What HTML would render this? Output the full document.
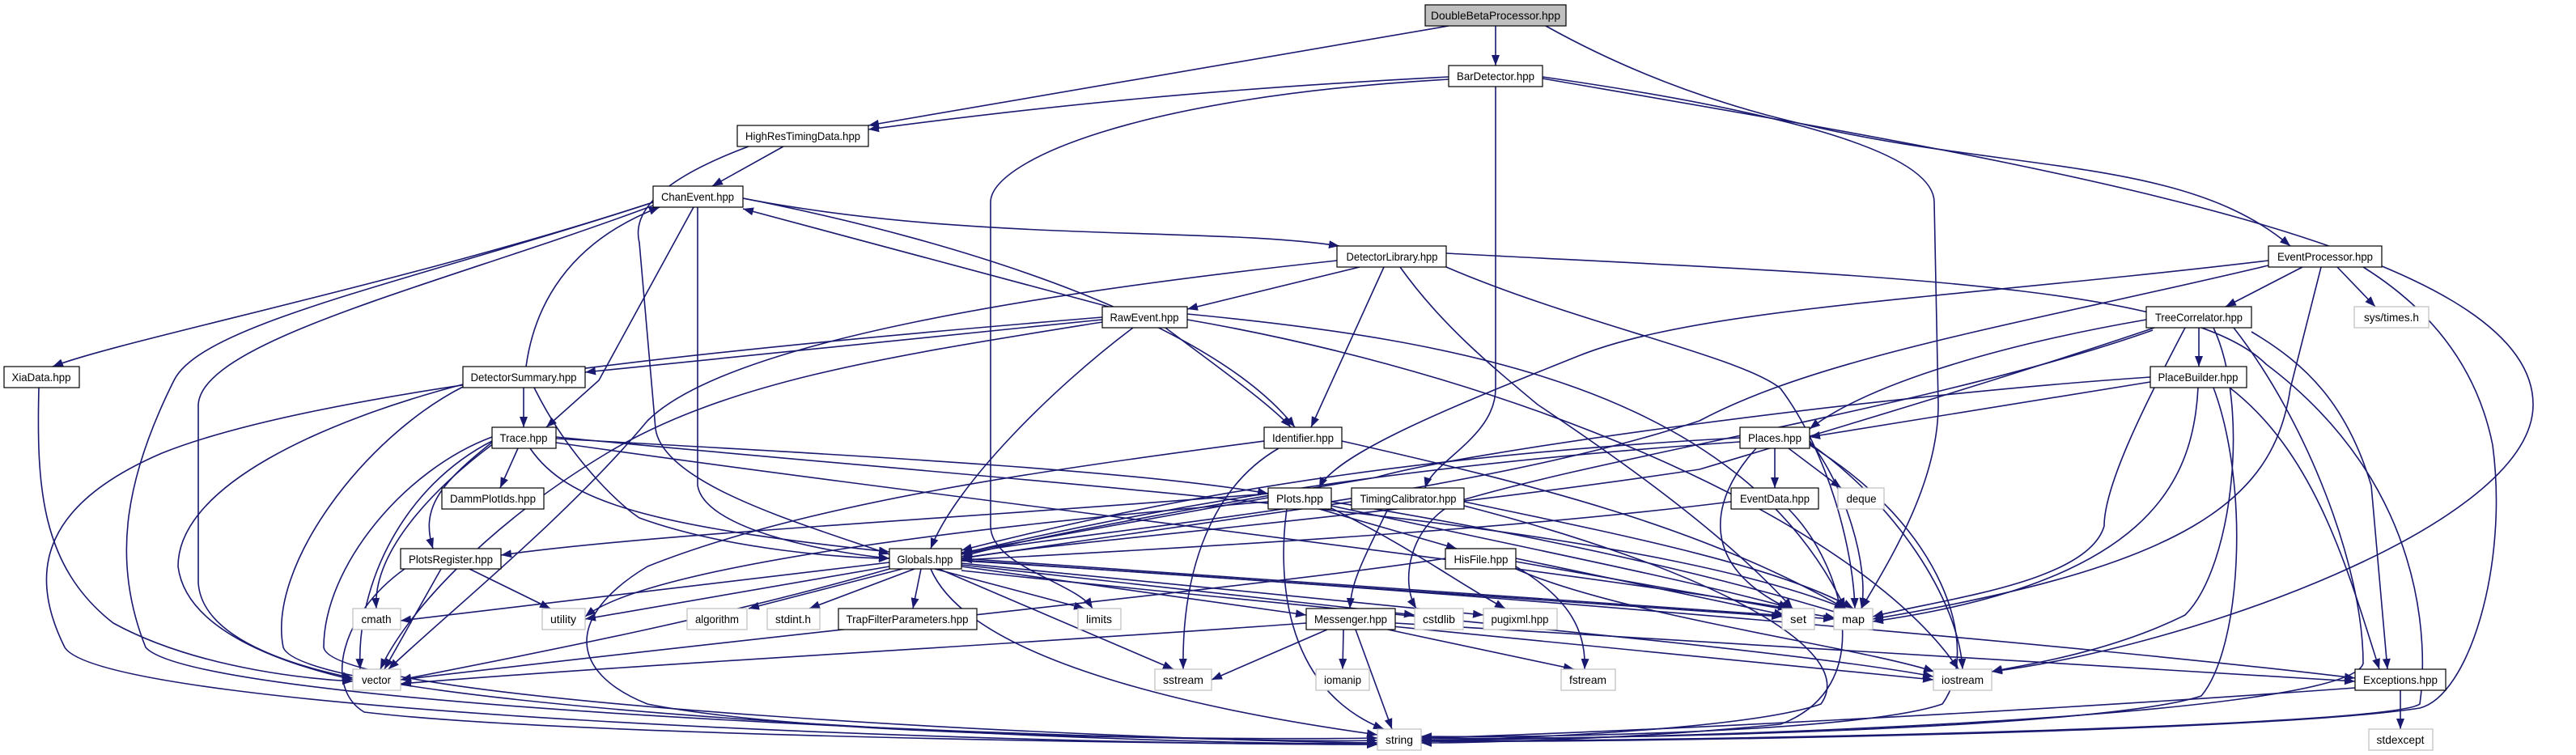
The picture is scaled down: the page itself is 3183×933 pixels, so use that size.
<!DOCTYPE html>
<html><head><meta charset="utf-8"><style>
html,body{margin:0;padding:0;background:#fff;}
svg{display:block;}
text{font-family:"Liberation Sans",sans-serif;font-size:14px;fill:#000;}
</style></head><body>
<svg width="3183" height="933" viewBox="0 0 3183 933" xmlns="http://www.w3.org/2000/svg">
<defs>
<marker id="a" markerUnits="userSpaceOnUse" markerWidth="14" markerHeight="12" refX="13" refY="5" orient="auto">
<path d="M0,0 L13,5 L0,10 z" fill="#191970"/>
</marker>
</defs>
<g fill="none" stroke="#191970" stroke-width="1.6" marker-end="url(#a)">
<path d="M1790 32 L1073 155"/>
<path d="M1848 32 L1848 81"/>
<path d="M1910 32 C2300 250 2650 150 2830 304"/>
<path d="M1790 95 C1500 110 1300 130 1073 160"/>
<path d="M1790 98 C1400 120 1224 200 1224 250 L1224 650 C1224 700 1330 720 1350 752"/>
<path d="M1848 107 L1848 480 C1848 540 1770 570 1761 603"/>
<path d="M1906 95 C2150 130 2390 180 2390 250 L2395 500 C2395 600 2330 700 2300 752"/>
<path d="M1906 97 C2500 200 3130 300 3130 500 C3130 650 2700 800 2461 830"/>
<path d="M968 181 L880 230"/>
<path d="M925 181 C820 220 780 260 790 300 L810 530 C820 600 1000 650 1099 685"/>
<path d="M807 250 C500 350 150 420 65 453"/>
<path d="M807 254 C550 350 250 420 245 500 L245 720 C250 800 400 830 436 838"/>
<path d="M807 250 C500 350 250 400 215 470 C150 600 140 700 180 800 C250 880 1500 920 1702 915"/>
<path d="M862 256 L862 600 C870 650 1000 680 1099 690"/>
<path d="M857 256 L740 470 L675 528"/>
<path d="M918 245 C1200 300 1500 400 1600 528"/>
<path d="M918 245 C1200 300 1500 280 1655 304"/>
<path d="M650 453 C660 380 700 300 815 256"/>
<path d="M647 479 L647 528"/>
<path d="M660 479 C700 560 760 620 790 640 C900 680 1050 690 1099 690"/>
<path d="M572 475 C400 520 220 600 220 700 C230 780 350 820 436 840"/>
<path d="M572 478 C450 540 330 700 350 800 C380 880 1500 925 1702 918"/>
<path d="M1370 379 L918 258"/>
<path d="M1362 395 C1100 420 900 440 723 460"/>
<path d="M1440 405 C1500 450 1570 500 1595 528"/>
<path d="M1400 405 C1300 480 1180 600 1150 678"/>
<path d="M1362 392 C900 430 400 480 200 560 C60 620 30 700 80 800 C130 880 1200 920 1702 920"/>
<path d="M1362 398 C1100 440 900 470 750 560 C600 650 500 760 470 827"/>
<path d="M1467 388 C1800 420 2150 480 2280 752"/>
<path d="M1467 395 C1900 470 2300 650 2420 827"/>
<path d="M1680 330 L1467 382"/>
<path d="M1710 330 L1620 528"/>
<path d="M1652 322 C1300 360 900 420 800 520 C700 640 550 760 480 827"/>
<path d="M1730 330 C1780 400 1840 450 1900 500 C2050 600 2150 680 2215 752"/>
<path d="M1787 330 C1950 400 2150 440 2200 480 C2260 560 2290 680 2292 752"/>
<path d="M1787 313 C2300 340 2700 350 2800 450 C3000 600 3000 800 2990 870 C2950 900 2000 918 1756 915"/>
<path d="M2803 322 C2400 370 2100 380 1950 440 C1800 500 1650 560 1630 603"/>
<path d="M2803 328 C2500 400 2250 440 2100 520 C1800 620 1300 660 1188 685"/>
<path d="M2845 330 L2750 379"/>
<path d="M2888 330 L2935 379"/>
<path d="M2868 330 L2830 480 C2810 620 2700 700 2314 765"/>
<path d="M2920 330 C3000 380 3060 450 3080 550 C3100 700 3050 860 2990 875 C2800 905 2000 918 1756 916"/>
<path d="M2717 405 L2717 453"/>
<path d="M2652 395 C2450 430 2300 480 2236 530"/>
<path d="M2662 405 C2500 460 2300 520 2100 580 C1700 640 1300 670 1188 690"/>
<path d="M2700 405 C2650 500 2600 600 2600 650 C2580 720 2400 740 2314 762"/>
<path d="M2735 405 C2780 500 2760 700 2700 760 C2600 810 2480 825 2461 830"/>
<path d="M2782 410 C2850 450 2900 500 2930 600 L2950 827"/>
<path d="M2760 405 C2850 520 2920 700 2920 820 C2900 890 2000 915 1756 914"/>
<path d="M2660 408 C2400 500 2000 560 1800 620 C1740 650 1730 720 1750 752"/>
<path d="M2657 472 L2236 540"/>
<path d="M2657 466 C2300 490 1800 560 1700 590 C1400 640 1250 670 1188 688"/>
<path d="M2716 479 C2710 600 2650 720 2314 768"/>
<path d="M2755 479 C2860 560 2900 700 2940 827"/>
<path d="M2735 479 C2780 600 2770 800 2720 860 C2600 900 2000 915 1756 912"/>
<path d="M2193 554 L2193 603"/>
<path d="M2210 554 L2275 603"/>
<path d="M2150 541 C1800 560 1500 600 1188 680"/>
<path d="M2150 546 C1800 570 1500 610 1188 684"/>
<path d="M2170 554 C2110 620 2100 700 2210 752"/>
<path d="M2236 545 C2280 600 2310 700 2300 752"/>
<path d="M2236 548 C2340 620 2420 740 2425 827"/>
<path d="M2236 550 C2400 650 2450 800 2400 870 C2300 905 1900 912 1756 910"/>
<path d="M1580 554 C1500 600 1460 700 1462 827"/>
<path d="M1562 545 C1300 580 1000 620 800 700 C700 760 700 830 800 870 C1000 910 1500 915 1702 912"/>
<path d="M1658 545 C1900 600 2100 650 2280 752"/>
<path d="M640 554 L618 603"/>
<path d="M610 545 C540 600 520 630 535 678"/>
<path d="M610 548 C540 600 460 680 465 752"/>
<path d="M608 545 C500 600 440 720 445 827"/>
<path d="M608 540 C500 580 400 700 400 800 C410 870 1400 915 1702 918"/>
<path d="M655 554 C700 620 800 650 1099 682"/>
<path d="M687 542 C1000 560 1400 580 1567 610"/>
<path d="M687 547 C1200 620 1900 700 2210 752"/>
<path d="M687 540 C1300 600 2000 640 2280 752"/>
<path d="M1567 615 L1188 683"/>
<path d="M1567 610 C1200 640 800 660 619 686"/>
<path d="M1630 629 L1800 678"/>
<path d="M1590 629 C1580 700 1580 850 1710 901"/>
<path d="M1645 625 C1900 680 2100 720 2215 752"/>
<path d="M1645 620 C1950 670 2150 720 2280 760"/>
<path d="M1645 628 C1750 680 1800 720 1860 752"/>
<path d="M1567 620 C1200 650 800 700 723 762"/>
<path d="M1670 620 L1188 690"/>
<path d="M1715 629 C1680 700 1670 720 1668 752"/>
<path d="M1809 620 C2000 660 2200 700 2290 752"/>
<path d="M1809 625 C2100 700 2300 800 2250 870 C2150 905 1800 915 1756 915"/>
<path d="M2139 620 C1900 650 1600 670 1188 692"/>
<path d="M2210 629 C2280 700 2320 850 2200 895 C2000 915 1800 918 1756 918"/>
<path d="M1786 690 C1600 720 1000 780 495 840"/>
<path d="M1873 690 L2205 760"/>
<path d="M1873 694 L2268 764"/>
<path d="M1873 700 C1940 740 1960 780 1958 827"/>
<path d="M1873 703 C2000 760 2300 800 2390 830"/>
<path d="M580 703 L680 752"/>
<path d="M545 703 L475 827"/>
<path d="M500 703 C420 760 400 850 450 880 C700 910 1500 920 1702 920"/>
<path d="M1099 695 L495 767"/>
<path d="M1099 700 L723 765"/>
<path d="M1115 703 L925 752"/>
<path d="M1130 703 L1000 752"/>
<path d="M1138 703 L1128 752"/>
<path d="M1155 703 L1340 752"/>
<path d="M1160 703 L1450 827"/>
<path d="M1150 703 C1200 820 1500 880 1702 908"/>
<path d="M1099 703 C900 760 700 800 495 840"/>
<path d="M1188 700 L1614 760"/>
<path d="M1188 698 L1748 760"/>
<path d="M1188 696 L1833 760"/>
<path d="M1188 692 L2202 762"/>
<path d="M1188 690 L2266 765"/>
<path d="M1188 705 C1600 750 2200 800 2389 836"/>
<path d="M1188 693 C1800 730 2600 800 2910 838"/>
<path d="M1660 778 L1659 827"/>
<path d="M1675 778 L1720 901"/>
<path d="M1715 778 L1945 827"/>
<path d="M1720 774 L2389 840"/>
<path d="M1724 770 L2910 842"/>
<path d="M1640 778 L1497 840"/>
<path d="M1614 770 C1200 800 800 820 495 845"/>
<path d="M2966 853 L2966 901"/>
<path d="M2910 850 C2500 880 2000 905 1756 912"/>
<path d="M48 479 C45 600 50 700 140 770 C250 830 400 840 436 842"/>
</g>
<g stroke-width="1.2">
<rect x="1761" y="6" width="174" height="26" fill="#bfbfbf" stroke="#000"/>
<text x="1848" y="24" text-anchor="middle" textLength="160" lengthAdjust="spacingAndGlyphs">DoubleBetaProcessor.hpp</text>
</g>
<g fill="#fff" stroke="#000" stroke-width="1.2">
<rect x="1790" y="81" width="116" height="26"/>
<rect x="911" y="155" width="162" height="26"/>
<rect x="807" y="230" width="111" height="26"/>
<rect x="1652" y="304" width="135" height="26"/>
<rect x="2803" y="304" width="140" height="26"/>
<rect x="1362" y="379" width="105" height="26"/>
<rect x="2652" y="379" width="130" height="26"/>
<rect x="5" y="453" width="93" height="26"/>
<rect x="572" y="453" width="151" height="26"/>
<rect x="2657" y="453" width="119" height="26"/>
<rect x="608" y="528" width="79" height="26"/>
<rect x="1562" y="528" width="96" height="26"/>
<rect x="2150" y="528" width="86" height="26"/>
<rect x="546" y="603" width="126" height="26"/>
<rect x="1567" y="603" width="78" height="26"/>
<rect x="1670" y="603" width="139" height="26"/>
<rect x="2139" y="603" width="108" height="26"/>
<rect x="495" y="678" width="124" height="25"/>
<rect x="1099" y="678" width="89" height="25"/>
<rect x="1786" y="678" width="87" height="25"/>
<rect x="1036" y="752" width="171" height="26"/>
<rect x="1614" y="752" width="110" height="26"/>
<rect x="2910" y="827" width="112" height="26"/>
</g>
<g fill="#fff" stroke="#bfbfbf" stroke-width="1.2">
<rect x="2909" y="379" width="92" height="26"/>
<rect x="2271" y="603" width="57" height="26"/>
<rect x="436" y="752" width="59" height="26"/>
<rect x="670" y="752" width="53" height="26"/>
<rect x="849" y="752" width="74" height="26"/>
<rect x="948" y="752" width="65" height="26"/>
<rect x="1332" y="752" width="53" height="26"/>
<rect x="1748" y="752" width="60" height="26"/>
<rect x="1833" y="752" width="91" height="26"/>
<rect x="2202" y="752" width="40" height="26"/>
<rect x="2266" y="752" width="48" height="26"/>
<rect x="436" y="827" width="59" height="26"/>
<rect x="1427" y="827" width="70" height="26"/>
<rect x="1626" y="827" width="66" height="26"/>
<rect x="1929" y="827" width="67" height="26"/>
<rect x="2389" y="827" width="72" height="26"/>
<rect x="1702" y="901" width="54" height="26"/>
<rect x="2927" y="901" width="79" height="26"/>
</g>
<g text-anchor="middle">
<text x="1848" y="99" textLength="96" lengthAdjust="spacingAndGlyphs">BarDetector.hpp</text>
<text x="992" y="173" textLength="142" lengthAdjust="spacingAndGlyphs">HighResTimingData.hpp</text>
<text x="862" y="248" textLength="90" lengthAdjust="spacingAndGlyphs">ChanEvent.hpp</text>
<text x="1720" y="322" textLength="113" lengthAdjust="spacingAndGlyphs">DetectorLibrary.hpp</text>
<text x="2873" y="322" textLength="118" lengthAdjust="spacingAndGlyphs">EventProcessor.hpp</text>
<text x="1414" y="397" textLength="85" lengthAdjust="spacingAndGlyphs">RawEvent.hpp</text>
<text x="2717" y="397" textLength="108" lengthAdjust="spacingAndGlyphs">TreeCorrelator.hpp</text>
<text x="2955" y="397" textLength="68" lengthAdjust="spacingAndGlyphs">sys/times.h</text>
<text x="51" y="471" textLength="73" lengthAdjust="spacingAndGlyphs">XiaData.hpp</text>
<text x="647" y="471" textLength="131" lengthAdjust="spacingAndGlyphs">DetectorSummary.hpp</text>
<text x="2716" y="471" textLength="99" lengthAdjust="spacingAndGlyphs">PlaceBuilder.hpp</text>
<text x="647" y="546" textLength="59" lengthAdjust="spacingAndGlyphs">Trace.hpp</text>
<text x="1610" y="546" textLength="76" lengthAdjust="spacingAndGlyphs">Identifier.hpp</text>
<text x="2193" y="546" textLength="66" lengthAdjust="spacingAndGlyphs">Places.hpp</text>
<text x="609" y="621" textLength="106" lengthAdjust="spacingAndGlyphs">DammPlotIds.hpp</text>
<text x="1606" y="621" textLength="58" lengthAdjust="spacingAndGlyphs">Plots.hpp</text>
<text x="1740" y="621" textLength="119" lengthAdjust="spacingAndGlyphs">TimingCalibrator.hpp</text>
<text x="2193" y="621" textLength="86" lengthAdjust="spacingAndGlyphs">EventData.hpp</text>
<text x="2300" y="621" textLength="37" lengthAdjust="spacingAndGlyphs">deque</text>
<text x="557" y="696" textLength="104" lengthAdjust="spacingAndGlyphs">PlotsRegister.hpp</text>
<text x="1143" y="696" textLength="69" lengthAdjust="spacingAndGlyphs">Globals.hpp</text>
<text x="1830" y="696" textLength="67" lengthAdjust="spacingAndGlyphs">HisFile.hpp</text>
<text x="465" y="770" textLength="37" lengthAdjust="spacingAndGlyphs">cmath</text>
<text x="696" y="770" textLength="32" lengthAdjust="spacingAndGlyphs">utility</text>
<text x="886" y="770" textLength="54" lengthAdjust="spacingAndGlyphs">algorithm</text>
<text x="980" y="770" textLength="44" lengthAdjust="spacingAndGlyphs">stdint.h</text>
<text x="1121" y="770" textLength="151" lengthAdjust="spacingAndGlyphs">TrapFilterParameters.hpp</text>
<text x="1358" y="770" textLength="32" lengthAdjust="spacingAndGlyphs">limits</text>
<text x="1669" y="770" textLength="90" lengthAdjust="spacingAndGlyphs">Messenger.hpp</text>
<text x="1778" y="770" textLength="40" lengthAdjust="spacingAndGlyphs">cstdlib</text>
<text x="1878" y="770" textLength="71" lengthAdjust="spacingAndGlyphs">pugixml.hpp</text>
<text x="2222" y="770" textLength="20" lengthAdjust="spacingAndGlyphs">set</text>
<text x="2290" y="770" textLength="28" lengthAdjust="spacingAndGlyphs">map</text>
<text x="465" y="845" textLength="36" lengthAdjust="spacingAndGlyphs">vector</text>
<text x="1462" y="845" textLength="50" lengthAdjust="spacingAndGlyphs">sstream</text>
<text x="1659" y="845" textLength="46" lengthAdjust="spacingAndGlyphs">iomanip</text>
<text x="1962" y="845" textLength="46" lengthAdjust="spacingAndGlyphs">fstream</text>
<text x="2425" y="845" textLength="52" lengthAdjust="spacingAndGlyphs">iostream</text>
<text x="2966" y="845" textLength="92" lengthAdjust="spacingAndGlyphs">Exceptions.hpp</text>
<text x="1729" y="919" textLength="34" lengthAdjust="spacingAndGlyphs">string</text>
<text x="2966" y="919" textLength="59" lengthAdjust="spacingAndGlyphs">stdexcept</text>
</g>
</svg>
</body></html>
